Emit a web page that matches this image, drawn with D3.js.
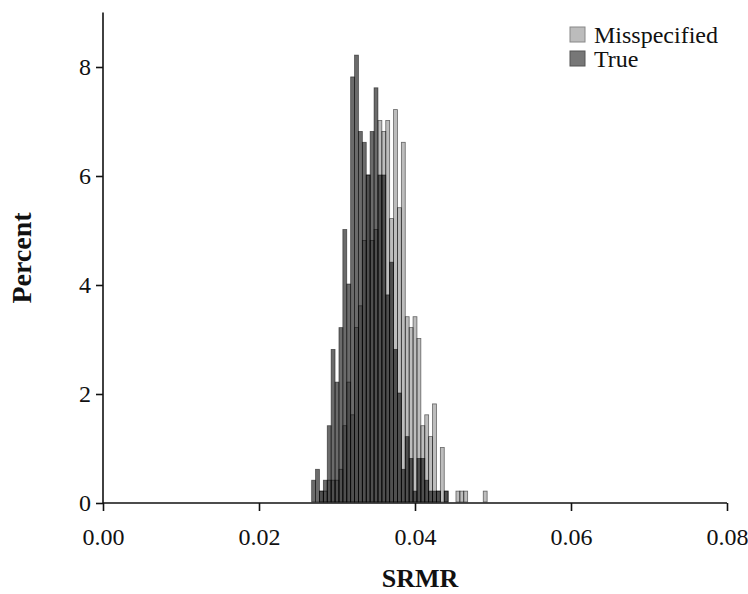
<!DOCTYPE html>
<html lang="en">
<head>
  <meta charset="UTF-8">
  <title>SRMR histogram</title>
  <script src="https://cdn.jsdelivr.net/npm/d3@7"></script>
  <style>
    body { margin: 0; background: #fff; }
    svg text { font-family: "Liberation Serif", "Times New Roman", serif; fill: #111; }
  </style>
</head>
<body>
  <script>
    // bin midpoints (bin width 0.0005)
    const midpoints = [
      0.0260, 0.0265, 0.0270, 0.0275, 0.0280, 0.0285, 0.0290, 0.0295, 0.0300, 0.0305,
      0.0310, 0.0315, 0.0320, 0.0325, 0.0330, 0.0335, 0.0340, 0.0345, 0.0350, 0.0355,
      0.0360, 0.0365, 0.0370, 0.0375, 0.0380, 0.0385, 0.0390, 0.0395, 0.0400, 0.0405,
      0.0410, 0.0415, 0.0420, 0.0425, 0.0430, 0.0435, 0.0440, 0.0445, 0.0450, 0.0455,
      0.0460, 0.0465, 0.0470, 0.0475, 0.0480, 0.0485, 0.0490, 0.0495, 0.0500, 0.0505
    ];
    const misspecified = [
      0, 0, 0, 0, 0.2, 0.2, 0.4, 0.4, 0.4, 0.6,
      1.4, 2.2, 1.6, 3.2, 3.6, 4.8, 6.0, 4.8, 5.0, 7.0,
      6.8, 7.0, 5.2, 7.2, 5.4, 6.6, 3.4, 3.2, 3.4, 3.0,
      1.4, 1.6, 1.2, 1.8, 0.2, 1.0, 0.2, 0, 0, 0.2,
      0.2, 0.2, 0, 0, 0, 0, 0.2, 0, 0, 0
    ];
    const trueModel = [
      0, 0, 0.4, 0.6, 0.2, 0.4, 1.4, 2.8, 2.2, 3.2,
      5.0, 4.0, 7.8, 8.2, 6.8, 6.6, 6.0, 6.8, 7.6, 6.0,
      6.0, 3.8, 4.4, 2.8, 2.0, 0.6, 1.2, 0.8, 0.2, 0.8,
      0.8, 0.4, 0.2, 0.2, 0.2, 0, 0.2, 0, 0, 0,
      0, 0, 0, 0, 0, 0, 0, 0, 0, 0
    ];
    const binWidth = 0.0005;
    const xTicks = [0, 0.02, 0.04, 0.06, 0.08];
    const yTicks = [0, 2, 4, 6, 8];
    const seriesNames = ["Misspecified", "True"];

    const w = 748, h = 594;
    const x0 = 103, x1 = 727, yBase = 503, yTop = 12.5;

    const xScale = d3.scaleLinear().domain([0, 0.08]).range([x0, x1]);
    const yScale = d3.scaleLinear().domain([0, 9]).range([yBase, yTop]);

    const svg = d3.select("body").append("svg")
      .attr("width", w)
      .attr("height", h);

    const series = [
      { name: seriesNames[0], values: misspecified, fill: "rgba(0,0,0,0.26)" },
      { name: seriesNames[1], values: trueModel, fill: "rgba(0,0,0,0.58)" }
    ];

    series.forEach(s => {
      svg.append("g")
        .selectAll("rect")
        .data(midpoints.map((m, i) => ({ m: m, v: s.values[i] })))
        .enter()
        .append("rect")
        .attr("x", d => xScale(d.m - binWidth / 2))
        .attr("width", d => xScale(d.m + binWidth / 2) - xScale(d.m - binWidth / 2))
        .attr("y", d => yScale(d.v) - 1)
        .attr("height", d => yBase - yScale(d.v))
        .attr("fill", s.fill)
        .attr("stroke", "rgba(0,0,0,0.55)")
        .attr("stroke-width", 0.8);
    });

    // axes
    const xAxis = d3.axisBottom(xScale).tickValues(xTicks).tickFormat(d3.format(".2f")).tickSize(8).tickPadding(17);
    const yAxis = d3.axisLeft(yScale).tickValues(yTicks).tickFormat(d3.format("d")).tickSize(7).tickPadding(5);

    const gx = svg.append("g")
      .attr("transform", "translate(0," + yBase + ")")
      .call(xAxis);
    const gy = svg.append("g")
      .attr("transform", "translate(" + x0 + ",0)")
      .call(yAxis);

    [gx, gy].forEach(g => {
      g.select(".domain").attr("stroke", "#111").attr("stroke-width", 1.6);
      g.selectAll(".tick line").attr("stroke", "#111").attr("stroke-width", 1.6);
      g.selectAll(".tick text").attr("font-size", 24).attr("font-family", "Liberation Serif").attr("fill", "#111");
    });
    gx.select(".domain").attr("d", "M" + x0 + ",0H" + x1);
    gy.select(".domain").attr("d", "M0," + yBase + "V" + yTop);

    // axis titles
    svg.append("text")
      .attr("x", 420)
      .attr("y", 587)
      .attr("text-anchor", "middle")
      .attr("font-size", 26)
      .attr("font-weight", "bold")
      .text("SRMR");

    svg.append("text")
      .attr("transform", "translate(31,258) rotate(-90)")
      .attr("text-anchor", "middle")
      .attr("font-size", 28)
      .attr("font-weight", "bold")
      .text("Percent");

    // legend
    const legend = svg.append("g").attr("transform", "translate(570,27)");
    series.forEach((s, i) => {
      const row = legend.append("g").attr("transform", "translate(0," + i * 24 + ")");
      row.append("rect")
        .attr("width", 15).attr("height", 15)
        .attr("fill", i === 0 ? "#bcbcbc" : "#777")
        .attr("stroke", i === 0 ? "#888" : "#555")
        .attr("stroke-width", 1);
      row.append("text")
        .attr("x", 24)
        .attr("y", 16)
        .attr("font-size", 24)
        .text(s.name);
    });
  </script>
</body>
</html>
